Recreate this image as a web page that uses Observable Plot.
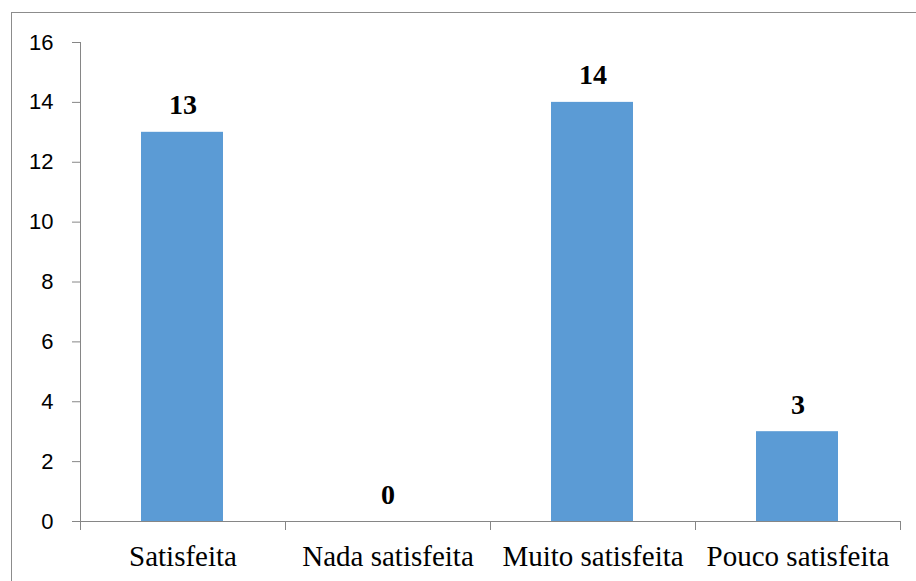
<!DOCTYPE html>
<html>
<head>
<meta charset="utf-8">
<script src="https://cdn.jsdelivr.net/npm/d3@7"></script>
<script src="https://cdn.jsdelivr.net/npm/@observablehq/plot@0.6"></script>
<style>
  html, body { margin: 0; padding: 0; background: #fff; }
  #wrap { position: relative; width: 916px; height: 581px; overflow: hidden; }
  #frame { position: absolute; left: 11px; top: 12px; right: -2px; bottom: -2px;
           border-left: 1px solid #8c8c8c; border-top: 1px solid #8c8c8c; pointer-events: none; }
  svg { display: block; }
  svg g.serif-label text { font-family: "Liberation Serif", serif; }
  svg g.sans-label text { font-family: "Liberation Sans", sans-serif; }
</style>
</head>
<body>
<div id="wrap"><div id="frame"></div></div>
<script>
const categories = ["Satisfeita", "Nada satisfeita", "Muito satisfeita", "Pouco satisfeita"];
const values = [13, 0, 14, 3];
const yTicks = [0, 2, 4, 6, 8, 10, 12, 14, 16];

const data = categories.map((c, i) => ({category: c, index: i, value: values[i]}));
const boundaries = d3.range(categories.length + 1);

const axisGray = "#868686";

const chart = Plot.plot({
  width: 916,
  height: 581,
  marginLeft: 80,
  marginRight: 16,
  marginTop: 42,
  marginBottom: 60,
  style: {background: "transparent", overflow: "visible"},
  x: {type: "linear", domain: [0, categories.length], axis: null},
  y: {domain: [0, 16], axis: null},
  marks: [
    Plot.rectY(data, {
      x1: "index",
      x2: d => d.index + 1,
      y: "value",
      insetLeft: 61,
      insetRight: 62,
      fill: "#5b9bd5"
    }),
    Plot.ruleX([0], {stroke: axisGray}),
    Plot.ruleY([0], {stroke: axisGray}),
    Plot.axisY({
      ticks: yTicks,
      tickSize: 8,
      tickFormat: () => "",
      stroke: axisGray,
      label: null
    }),
    Plot.text(yTicks, {
      x: 0,
      y: d => d,
      text: d => String(d),
      textAnchor: "end",
      dx: -27,
      fontSize: 22,
      fontFamily: "Liberation Sans",
      className: "sans-label",
      fill: "#000"
    }),
    Plot.axisX({
      ticks: boundaries,
      tickSize: 9,
      tickFormat: () => "",
      stroke: axisGray,
      label: null
    }),
    Plot.text(data, {
      x: d => d.index + 0.5,
      y: 0,
      text: "category",
      lineAnchor: "bottom",
      dy: 44,
      fontSize: 29,
      fontFamily: "Liberation Serif",
      className: "serif-label",
      fill: "#000"
    }),
    Plot.text(data, {
      x: d => d.index + 0.5,
      y: "value",
      text: d => String(d.value),
      lineAnchor: "bottom",
      dy: -18,
      fontSize: 28,
      fontWeight: "bold",
      fontFamily: "Liberation Serif",
      className: "serif-label",
      fill: "#000"
    })
  ]
});

document.getElementById("wrap").prepend(chart);
</script>
</body>
</html>
